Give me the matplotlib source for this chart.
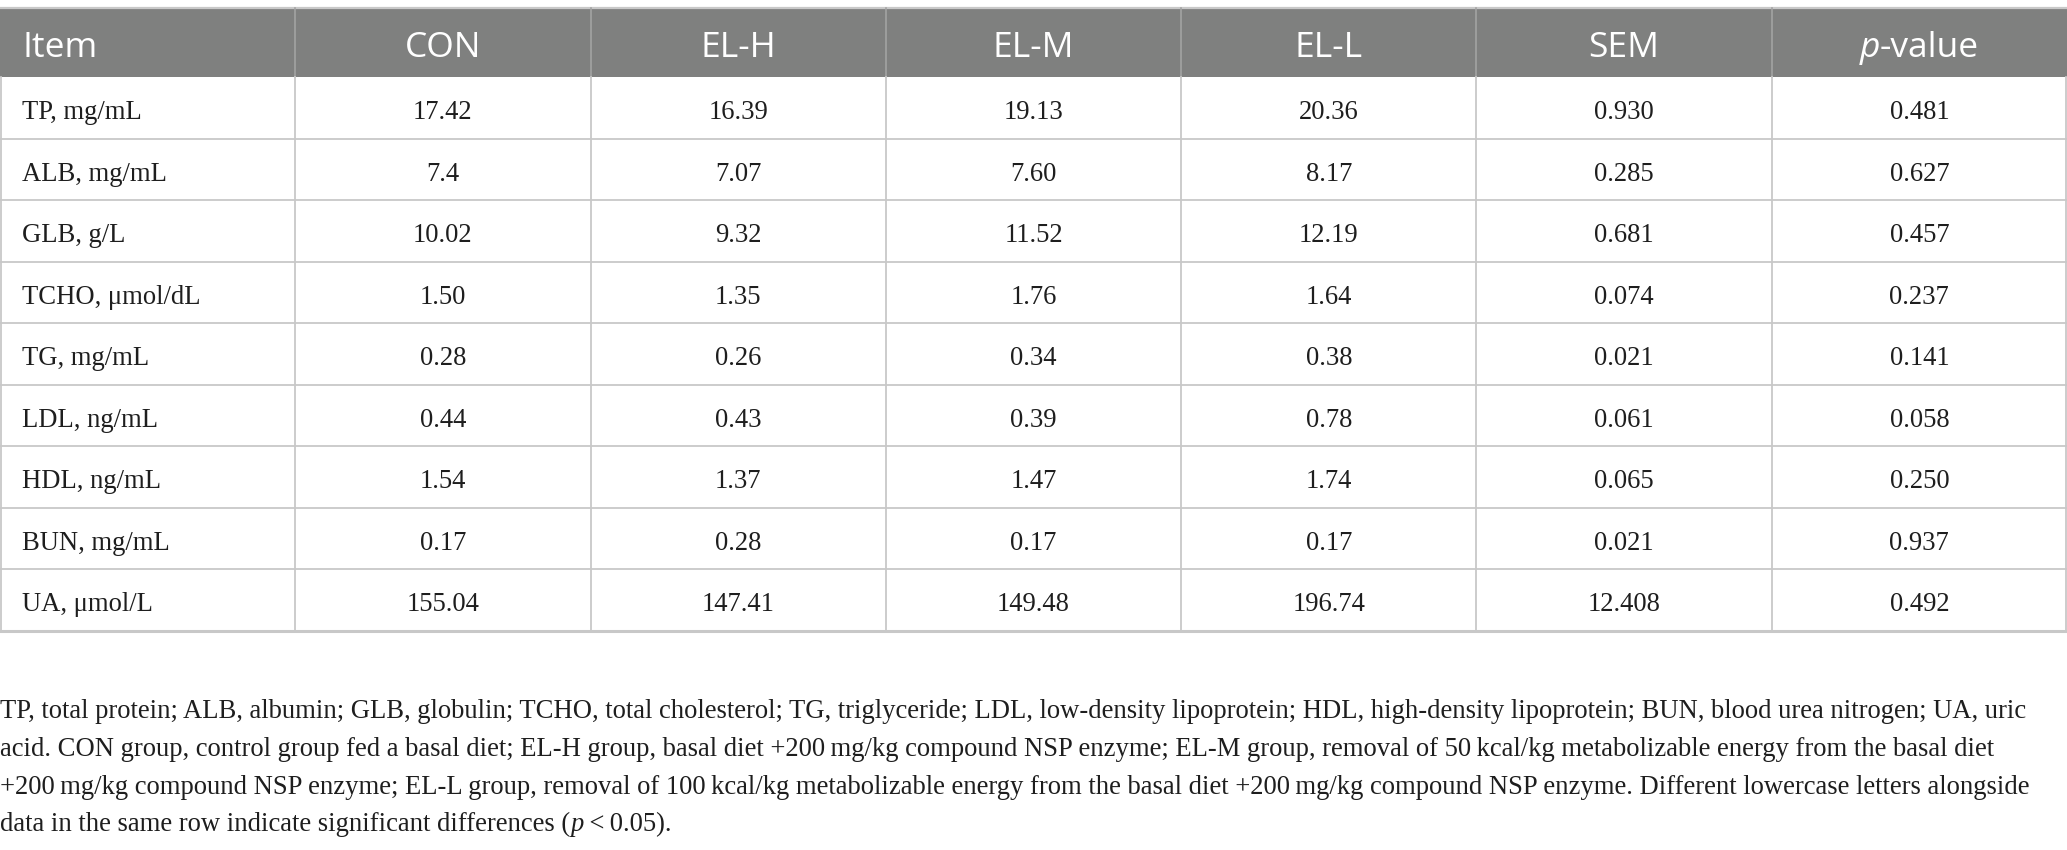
import matplotlib
matplotlib.use("Agg")
import matplotlib.pyplot as plt
from matplotlib.patches import Rectangle

# ---- data ----
columns = ["Item", "CON", "EL-H", "EL-M", "EL-L", "SEM", "p-value"]
items = ["TP, mg/mL", "ALB, mg/mL", "GLB, g/L", "TCHO, μmol/dL", "TG, mg/mL",
         "LDL, ng/mL", "HDL, ng/mL", "BUN, mg/mL", "UA, μmol/L"]
con = ["17.42", "7.4", "10.02", "1.50", "0.28", "0.44", "1.54", "0.17", "155.04"]
el_h = ["16.39", "7.07", "9.32", "1.35", "0.26", "0.43", "1.37", "0.28", "147.41"]
el_m = ["19.13", "7.60", "11.52", "1.76", "0.34", "0.39", "1.47", "0.17", "149.48"]
el_l = ["20.36", "8.17", "12.19", "1.64", "0.38", "0.78", "1.74", "0.17", "196.74"]
sem = ["0.930", "0.285", "0.681", "0.074", "0.021", "0.061", "0.065", "0.021", "12.408"]
pval = ["0.481", "0.627", "0.457", "0.237", "0.141", "0.058", "0.250", "0.937", "0.492"]

TS = "\u2009"
footnote_lines = [
    [("TP, total protein; ALB, albumin; GLB, globulin; TCHO, total cholesterol; TG, triglyceride; LDL, low-density lipoprotein; HDL, high-density lipoprotein; BUN, blood urea nitrogen; UA, uric", "normal")],
    [("acid. CON group, control group fed a basal diet; EL-H group, basal diet +200" + TS + "mg/kg compound NSP enzyme; EL-M group, removal of 50" + TS + "kcal/kg metabolizable energy from the basal diet", "normal")],
    [("+200" + TS + "mg/kg compound NSP enzyme; EL-L group, removal of 100" + TS + "kcal/kg metabolizable energy from the basal diet +200" + TS + "mg/kg compound NSP enzyme. Different lowercase letters alongside", "normal")],
    [("data in the same row indicate significant differences (", "normal"), ("p", "italic"),
     (TS + "<" + TS + "0.05).", "normal")],
]

# ---- layout ----
W, H = 2067, 850
fig = plt.figure(figsize=(W / 100, H / 100), dpi=100)
ax = fig.add_axes([0, 0, 1, 1])
ax.set_xlim(0, W)
ax.set_ylim(H, 0)
ax.axis("off")
renderer = fig.canvas.get_renderer()

head_font = ["Open Sans", "DejaVu Sans"]
body_font = ["Liberation Serif", "DejaVu Serif"]
txt_c = "#1e1e1e"


def draw_runs(x, y, runs, family, size, color, ha="left", va="baseline"):
    objs = []
    for s, style in runs:
        t = ax.text(0, y, s, family=family, fontsize=size, style=style,
                    color=color, ha="left", va=va, zorder=4)
        objs.append(t)
    widths = [t.get_window_extent(renderer).width for t in objs]
    total = sum(widths)
    start = x - total / 2 if ha == "center" else x
    for t, w in zip(objs, widths):
        t.set_x(start)
        start += w
    return objs, total


ncol = len(columns)
col_w = W / ncol
col_edges = [i * col_w for i in range(ncol + 1)]
header_top, header_bot = 8, 77
table_bot = 630.5
row_h = (table_bot - header_bot) / len(items)

grid_c = "#c8c8c8"
ax.add_patch(Rectangle((0, header_top), W, header_bot - header_top,
                       facecolor="#7f807f", edgecolor="none", zorder=1))
ax.plot([0, W], [header_top, header_top], color=grid_c, lw=1.6, zorder=2)

# header text
hy = header_top + 0.71 * (header_bot - header_top)
hsize = 25.5
for i, c in enumerate(columns):
    x0, x1 = col_edges[i], col_edges[i + 1]
    if i == 0:
        draw_runs(x0 + 22, hy, [(c, "normal")], head_font, hsize, "white", ha="left")
    elif c == "p-value":
        draw_runs((x0 + x1) / 2, hy, [("p", "italic"), ("-value", "normal")],
                  head_font, hsize, "white", ha="center")
    else:
        draw_runs((x0 + x1) / 2, hy, [(c, "normal")], head_font, hsize, "white",
                  ha="center")

for x in col_edges[1:-1]:
    ax.plot([x, x], [header_top, header_bot], color="#a3a3a3", lw=1.2, zorder=2)

# body
bsize = 19.2
data_cols = [con, el_h, el_m, el_l, sem, pval]
for r, name in enumerate(items):
    y0 = header_bot + r * row_h
    yb = y0 + 0.684 * row_h
    ax.text(col_edges[0] + 22, yb, name, fontsize=bsize, family=body_font,
            ha="left", va="baseline", color=txt_c)
    for j, col in enumerate(data_cols):
        x0, x1 = col_edges[j + 1], col_edges[j + 2]
        ax.text((x0 + x1) / 2, yb, col[r], fontsize=bsize, family=body_font,
                ha="center", va="baseline", color=txt_c)
    last = r == len(items) - 1
    ax.plot([0, W], [y0 + row_h, y0 + row_h], color=grid_c,
            lw=2.2 if last else 1.3, zorder=2)

for x in col_edges:
    xx = min(max(x, 0.8), W - 0.8)
    ax.plot([xx, xx], [header_bot, table_bot], color=grid_c, lw=1.3, zorder=2)

# footnote: fit the widest line to the reference's text width
foot_base = [718, 756, 793.5, 831]
fsize = 19.6
max_w = 0
for runs in footnote_lines:
    objs, total = draw_runs(0, -100, runs, body_font, fsize, txt_c)
    max_w = max(max_w, total)
    for o in objs:
        o.remove()
fsize = fsize * 2034 / max_w
for y, runs in zip(foot_base, footnote_lines):
    draw_runs(0, y, runs, body_font, fsize, txt_c, ha="left")

fig.savefig("out.png", dpi=100, facecolor="white")
